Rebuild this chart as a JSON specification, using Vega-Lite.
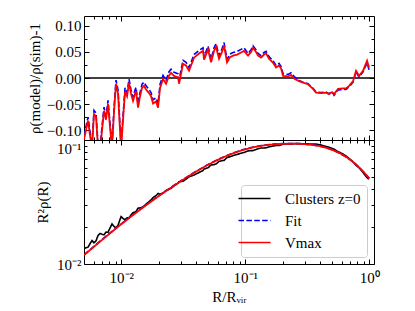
{
  "$schema": "https://vega.github.io/schema/vega-lite/v6.json",
  "padding": {"left": 26, "top": 15, "right": 5, "bottom": 5},
  "background": "white",
  "config": {
    "font": "Liberation Serif",
    "view": {"stroke": "black", "strokeWidth": 1},
    "axis": {"domain": false, "grid": false, "tickColor": "black", "tickWidth": 1, "labelFont": "Liberation Serif", "labelFontSize": 15, "labelColor": "black", "titleFont": "Liberation Serif", "titleFontSize": 15, "titleFontWeight": "normal", "titleColor": "black"},
    "legend": {"labelFont": "Liberation Serif", "labelFontSize": 15, "labelColor": "black", "strokeColor": "#cccccc", "fillColor": "rgba(255,255,255,0.85)", "cornerRadius": 3, "padding": 6}
  },
  "datasets": {
    "res": [
      {"r":0.00500,"vmax":-0.118,"fit":-0.111},{"r":0.00519,"vmax":-0.100,"fit":-0.093},{"r":0.00539,"vmax":-0.082,"fit":-0.075},{"r":0.00559,"vmax":-0.110,"fit":-0.103},{"r":0.00580,"vmax":-0.135,"fit":-0.128},{"r":0.00602,"vmax":-0.069,"fit":-0.062},{"r":0.00625,"vmax":-0.074,"fit":-0.067},{"r":0.00649,"vmax":-0.135,"fit":-0.128},{"r":0.00673,"vmax":-0.140,"fit":-0.133},{"r":0.00699,"vmax":-0.100,"fit":-0.093},
      {"r":0.00725,"vmax":-0.063,"fit":-0.056},{"r":0.00753,"vmax":-0.080,"fit":-0.073},{"r":0.00781,"vmax":-0.050,"fit":-0.043},{"r":0.00811,"vmax":-0.095,"fit":-0.088},{"r":0.00841,"vmax":-0.135,"fit":-0.128},{"r":0.00873,"vmax":-0.065,"fit":-0.058},{"r":0.00906,"vmax":-0.011,"fit":-0.004},{"r":0.00941,"vmax":-0.030,"fit":-0.023},{"r":0.00976,"vmax":-0.100,"fit":-0.093},{"r":0.00995,"vmax":-0.135,"fit":-0.128},
      {"r":0.01032,"vmax":-0.080,"fit":-0.073},{"r":0.01071,"vmax":-0.026,"fit":-0.019},{"r":0.01112,"vmax":-0.035,"fit":-0.028},{"r":0.01154,"vmax":-0.009,"fit":-0.002},{"r":0.01197,"vmax":-0.030,"fit":-0.023},{"r":0.01243,"vmax":-0.044,"fit":-0.037},{"r":0.01290,"vmax":-0.030,"fit":-0.023},{"r":0.01314,"vmax":-0.025,"fit":-0.018},{"r":0.01364,"vmax":-0.057,"fit":-0.050},{"r":0.01415,"vmax":-0.035,"fit":-0.028},
      {"r":0.01469,"vmax":-0.019,"fit":-0.012},{"r":0.01524,"vmax":-0.015,"fit":-0.008},{"r":0.01582,"vmax":-0.022,"fit":-0.015},{"r":0.01673,"vmax":-0.029,"fit":-0.022},{"r":0.01736,"vmax":-0.035,"fit":-0.028},{"r":0.01802,"vmax":-0.049,"fit":-0.042},{"r":0.01905,"vmax":-0.045,"fit":-0.038},{"r":0.01977,"vmax":-0.057,"fit":-0.050},{"r":0.02052,"vmax":-0.019,"fit":-0.012},{"r":0.02169,"vmax":-0.002,"fit":0.005},
      {"r":0.02294,"vmax":-0.011,"fit":-0.004},{"r":0.02425,"vmax":0.005,"fit":0.012},{"r":0.02517,"vmax":0.010,"fit":0.017},{"r":0.02661,"vmax":0.004,"fit":0.011},{"r":0.02866,"vmax":0.001,"fit":0.008},{"r":0.02920,"vmax":-0.011,"fit":-0.004},{"r":0.03145,"vmax":0.027,"fit":0.034},{"r":0.03325,"vmax":0.024,"fit":0.030},{"r":0.03516,"vmax":0.014,"fit":0.020},{"r":0.03857,"vmax":0.039,"fit":0.045},
      {"r":0.04232,"vmax":0.047,"fit":0.053},{"r":0.04560,"vmax":0.052,"fit":0.058},{"r":0.04645,"vmax":0.035,"fit":0.041},{"r":0.04821,"vmax":0.045,"fit":0.051},{"r":0.05003,"vmax":0.055,"fit":0.061},{"r":0.05290,"vmax":0.030,"fit":0.036},{"r":0.05593,"vmax":0.052,"fit":0.058},{"r":0.05804,"vmax":0.060,"fit":0.066},{"r":0.06136,"vmax":0.037,"fit":0.043},{"r":0.06488,"vmax":0.050,"fit":0.056},
      {"r":0.06733,"vmax":0.062,"fit":0.068},{"r":0.07119,"vmax":0.030,"fit":0.036},{"r":0.07527,"vmax":0.040,"fit":0.046},{"r":0.07959,"vmax":0.043,"fit":0.049},{"r":0.08573,"vmax":0.045,"fit":0.051},{"r":0.09233,"vmax":0.049,"fit":0.055},{"r":0.09761,"vmax":0.052,"fit":0.058},{"r":0.1051,"vmax":0.043,"fit":0.047},{"r":0.1112,"vmax":0.050,"fit":0.054},{"r":0.1154,"vmax":0.058,"fit":0.062},
      {"r":0.1220,"vmax":0.050,"fit":0.054},{"r":0.1266,"vmax":0.043,"fit":0.047},{"r":0.1339,"vmax":0.039,"fit":0.043},{"r":0.1415,"vmax":0.045,"fit":0.049},{"r":0.1469,"vmax":0.047,"fit":0.051},{"r":0.1553,"vmax":0.037,"fit":0.041},{"r":0.1673,"vmax":0.029,"fit":0.033},{"r":0.1768,"vmax":0.020,"fit":0.024},{"r":0.1870,"vmax":0.024,"fit":0.028},{"r":0.1941,"vmax":0.018,"fit":0.022},
      {"r":0.2014,"vmax":0.004,"fit":0.008},{"r":0.2210,"vmax":0.003,"fit":0.007},{"r":0.2336,"vmax":0.006,"fit":0.010},{"r":0.2470,"vmax":-0.001,"fit":0.003},{"r":0.2711,"vmax":-0.006,"fit":-0.005},{"r":0.2920,"vmax":-0.009,"fit":-0.008},{"r":0.3203,"vmax":-0.012,"fit":-0.011},{"r":0.3516,"vmax":-0.021,"fit":-0.020},{"r":0.3717,"vmax":-0.028,"fit":-0.027},{"r":0.4078,"vmax":-0.029,"fit":-0.028},
      {"r":0.4475,"vmax":-0.028,"fit":-0.027},{"r":0.4732,"vmax":-0.031,"fit":-0.030},{"r":0.5003,"vmax":-0.027,"fit":-0.026},{"r":0.5192,"vmax":-0.031,"fit":-0.033},{"r":0.5593,"vmax":-0.021,"fit":-0.023},{"r":0.6136,"vmax":-0.020,"fit":-0.022},{"r":0.6488,"vmax":-0.020,"fit":-0.022},{"r":0.6862,"vmax":-0.015,"fit":-0.017},{"r":0.7388,"vmax":-0.006,"fit":-0.008},{"r":0.7811,"vmax":0.014,"fit":0.012},
      {"r":0.8259,"vmax":0.004,"fit":0.002},{"r":0.8897,"vmax":0.014,"fit":0.012},{"r":0.9583,"vmax":0.033,"fit":0.029},{"r":0.9945,"vmax":0.020,"fit":0.016}
    ],
    "prof": [
      {"r":0.00500,"series":"Clusters z=0","value":0.01336},{"r":0.00519,"series":"Clusters z=0","value":0.01351},{"r":0.00539,"series":"Clusters z=0","value":0.01368},{"r":0.00559,"series":"Clusters z=0","value":0.01456},{"r":0.00580,"series":"Clusters z=0","value":0.01546},{"r":0.00602,"series":"Clusters z=0","value":0.01482},{"r":0.00625,"series":"Clusters z=0","value":0.01538},{"r":0.00649,"series":"Clusters z=0","value":0.01698},{"r":0.00673,"series":"Clusters z=0","value":0.01761},{"r":0.00699,"series":"Clusters z=0","value":0.01737},
      {"r":0.00725,"series":"Clusters z=0","value":0.01720},{"r":0.00753,"series":"Clusters z=0","value":0.01806},{"r":0.00781,"series":"Clusters z=0","value":0.01804},{"r":0.00811,"series":"Clusters z=0","value":0.01953},{"r":0.00841,"series":"Clusters z=0","value":0.02104},{"r":0.00873,"series":"Clusters z=0","value":0.02007},{"r":0.00906,"series":"Clusters z=0","value":0.01955},{"r":0.00941,"series":"Clusters z=0","value":0.02054},{"r":0.00976,"series":"Clusters z=0","value":0.02282},{"r":0.00995,"series":"Clusters z=0","value":0.02410},
      {"r":0.01032,"series":"Clusters z=0","value":0.02332},{"r":0.01071,"series":"Clusters z=0","value":0.02268},{"r":0.01112,"series":"Clusters z=0","value":0.02357},{"r":0.01154,"series":"Clusters z=0","value":0.02362},{"r":0.01197,"series":"Clusters z=0","value":0.02483},{"r":0.01243,"series":"Clusters z=0","value":0.02594},{"r":0.01290,"series":"Clusters z=0","value":0.02630},{"r":0.01314,"series":"Clusters z=0","value":0.02653},{"r":0.01364,"series":"Clusters z=0","value":0.02820},{"r":0.01415,"series":"Clusters z=0","value":0.02834},
      {"r":0.01469,"series":"Clusters z=0","value":0.02866},{"r":0.01524,"series":"Clusters z=0","value":0.02936},{"r":0.01582,"series":"Clusters z=0","value":0.03040},{"r":0.01673,"series":"Clusters z=0","value":0.03187},{"r":0.01736,"series":"Clusters z=0","value":0.03294},{"r":0.01802,"series":"Clusters z=0","value":0.03433},{"r":0.01905,"series":"Clusters z=0","value":0.03558},{"r":0.01977,"series":"Clusters z=0","value":0.03702},{"r":0.02052,"series":"Clusters z=0","value":0.03651},{"r":0.02169,"series":"Clusters z=0","value":0.03730},
      {"r":0.02294,"series":"Clusters z=0","value":0.03912},{"r":0.02425,"series":"Clusters z=0","value":0.04000},{"r":0.02517,"series":"Clusters z=0","value":0.04083},{"r":0.02661,"series":"Clusters z=0","value":0.04262},{"r":0.02866,"series":"Clusters z=0","value":0.04489},{"r":0.02920,"series":"Clusters z=0","value":0.04599},{"r":0.03145,"series":"Clusters z=0","value":0.04651},{"r":0.03325,"series":"Clusters z=0","value":0.04830},{"r":0.03516,"series":"Clusters z=0","value":0.05049},{"r":0.03857,"series":"Clusters z=0","value":0.05219},
      {"r":0.04232,"series":"Clusters z=0","value":0.05470},{"r":0.04560,"series":"Clusters z=0","value":0.05680},{"r":0.04645,"series":"Clusters z=0","value":0.05834},{"r":0.04821,"series":"Clusters z=0","value":0.05903},{"r":0.05003,"series":"Clusters z=0","value":0.05970},{"r":0.05290,"series":"Clusters z=0","value":0.06291},{"r":0.05593,"series":"Clusters z=0","value":0.06333},{"r":0.05804,"series":"Clusters z=0","value":0.06402},{"r":0.06136,"series":"Clusters z=0","value":0.06728},{"r":0.06488,"series":"Clusters z=0","value":0.06819},
      {"r":0.06733,"series":"Clusters z=0","value":0.06847},{"r":0.07119,"series":"Clusters z=0","value":0.07228},{"r":0.07527,"series":"Clusters z=0","value":0.07328},{"r":0.07959,"series":"Clusters z=0","value":0.07482},{"r":0.08573,"series":"Clusters z=0","value":0.07653},{"r":0.09233,"series":"Clusters z=0","value":0.07811},{"r":0.09761,"series":"Clusters z=0","value":0.07935},{"r":0.1051,"series":"Clusters z=0","value":0.08160},{"r":0.1112,"series":"Clusters z=0","value":0.08211},{"r":0.1154,"series":"Clusters z=0","value":0.08219},
      {"r":0.1220,"series":"Clusters z=0","value":0.08387},{"r":0.1266,"series":"Clusters z=0","value":0.08511},{"r":0.1339,"series":"Clusters z=0","value":0.08611},{"r":0.1415,"series":"Clusters z=0","value":0.08630},{"r":0.1469,"series":"Clusters z=0","value":0.08660},{"r":0.1553,"series":"Clusters z=0","value":0.08810},{"r":0.1673,"series":"Clusters z=0","value":0.08937},{"r":0.1768,"series":"Clusters z=0","value":0.09051},{"r":0.1870,"series":"Clusters z=0","value":0.09051},{"r":0.1941,"series":"Clusters z=0","value":0.09130},
      {"r":0.2014,"series":"Clusters z=0","value":0.09274},{"r":0.2210,"series":"Clusters z=0","value":0.09291},{"r":0.2336,"series":"Clusters z=0","value":0.09270},{"r":0.2470,"series":"Clusters z=0","value":0.09339},{"r":0.2711,"series":"Clusters z=0","value":0.09345},{"r":0.2920,"series":"Clusters z=0","value":0.09333},{"r":0.3203,"series":"Clusters z=0","value":0.09299},{"r":0.3516,"series":"Clusters z=0","value":0.09265},{"r":0.3717,"series":"Clusters z=0","value":0.09258},{"r":0.4078,"series":"Clusters z=0","value":0.09112},
      {"r":0.4475,"series":"Clusters z=0","value":0.08853},{"r":0.4732,"series":"Clusters z=0","value":0.08733},{"r":0.5003,"series":"Clusters z=0","value":0.08554},{"r":0.5192,"series":"Clusters z=0","value":0.08440},{"r":0.5593,"series":"Clusters z=0","value":0.08060},{"r":0.6136,"series":"Clusters z=0","value":0.07701},{"r":0.6488,"series":"Clusters z=0","value":0.07439},{"r":0.6862,"series":"Clusters z=0","value":0.07096},{"r":0.7388,"series":"Clusters z=0","value":0.06646},{"r":0.7811,"series":"Clusters z=0","value":0.06247},
      {"r":0.8259,"series":"Clusters z=0","value":0.05974},{"r":0.8897,"series":"Clusters z=0","value":0.05465},{"r":0.9583,"series":"Clusters z=0","value":0.04958},{"r":0.9945,"series":"Clusters z=0","value":0.04830},
      {"r":0.005012,"series":"Fit","value":0.01188},{"r":0.00631,"series":"Fit","value":0.01445},{"r":0.007943,"series":"Fit","value":0.01750},{"r":0.01,"series":"Fit","value":0.02109},{"r":0.01259,"series":"Fit","value":0.02524},{"r":0.01585,"series":"Fit","value":0.03000},{"r":0.01995,"series":"Fit","value":0.03541},{"r":0.02512,"series":"Fit","value":0.04150},{"r":0.03162,"series":"Fit","value":0.04831},{"r":0.03981,"series":"Fit","value":0.05567},{"r":0.05012,"series":"Fit","value":0.06348},{"r":0.0631,"series":"Fit","value":0.07121},
      {"r":0.07943,"series":"Fit","value":0.07845},{"r":0.1,"series":"Fit","value":0.08464},{"r":0.1259,"series":"Fit","value":0.08907},{"r":0.1585,"series":"Fit","value":0.09199},{"r":0.1995,"series":"Fit","value":0.09348},{"r":0.2512,"series":"Fit","value":0.09370},{"r":0.3162,"series":"Fit","value":0.09213},{"r":0.3981,"series":"Fit","value":0.08922},{"r":0.5012,"series":"Fit","value":0.08326},{"r":0.631,"series":"Fit","value":0.07432},{"r":0.7943,"series":"Fit","value":0.06240},{"r":1.0,"series":"Fit","value":0.04878},
      {"r":0.005012,"series":"Vmax","value":0.01180},{"r":0.00631,"series":"Vmax","value":0.01435},{"r":0.007943,"series":"Vmax","value":0.01738},{"r":0.01,"series":"Vmax","value":0.02094},{"r":0.01259,"series":"Vmax","value":0.02506},{"r":0.01585,"series":"Vmax","value":0.02979},{"r":0.01995,"series":"Vmax","value":0.03516},{"r":0.02512,"series":"Vmax","value":0.04121},{"r":0.03162,"series":"Vmax","value":0.04797},{"r":0.03981,"series":"Vmax","value":0.05534},{"r":0.05012,"series":"Vmax","value":0.06310},{"r":0.0631,"series":"Vmax","value":0.07079},
      {"r":0.07943,"series":"Vmax","value":0.07798},{"r":0.1,"series":"Vmax","value":0.08414},{"r":0.1259,"series":"Vmax","value":0.08872},{"r":0.1585,"series":"Vmax","value":0.09162},{"r":0.1995,"series":"Vmax","value":0.09311},{"r":0.2512,"series":"Vmax","value":0.09333},{"r":0.3162,"series":"Vmax","value":0.09204},{"r":0.3981,"series":"Vmax","value":0.08913},{"r":0.5012,"series":"Vmax","value":0.08318},{"r":0.631,"series":"Vmax","value":0.07447},{"r":0.7943,"series":"Vmax","value":0.06252},{"r":1.0,"series":"Vmax","value":0.04898}
    ],
    "zero": [{"level": 0}]
  },
  "spacing": 0,
  "bounds": "flush",
  "resolve": {"scale": {"color": "independent", "strokeDash": "independent"}},
  "vconcat": [
    {
      "width": 290,
      "height": 124,
      "resolve": {"axis": {"x": "independent", "y": "independent"}},
      "layer": [
        {
          "data": {"name": "zero"},
          "mark": {"type": "rule", "color": "black", "strokeWidth": 1.5},
          "encoding": {
            "y": {"field": "level", "type": "quantitative", "scale": {"domain": [-0.119, 0.119], "nice": false, "zero": false}, "axis": null}
          }
        },
        {
          "data": {"name": "res"},
          "mark": {"type": "line", "color": "blue", "strokeWidth": 1.6, "strokeDash": [5.5, 2.4], "clip": true},
          "encoding": {
            "x": {"field": "r", "type": "quantitative", "scale": {"type": "log", "domain": [0.005, 1.09], "nice": false}, "axis": {"orient": "bottom", "values": [0.01, 0.1, 1], "labels": false, "tickSize": -5, "title": null}},
            "y": {"field": "fit", "type": "quantitative", "scale": {"domain": [-0.119, 0.119], "nice": false, "zero": false}, "axis": {"orient": "left", "values": [-0.1, -0.05, 0, 0.05, 0.1], "format": ".2f", "tickSize": -5, "labelPadding": 8, "title": "ρ(model)/ρ(sim)-1", "titlePadding": 4}}
          }
        },
        {
          "data": {"name": "res"},
          "mark": {"type": "line", "color": "red", "strokeWidth": 1.8, "clip": true},
          "encoding": {
            "x": {"field": "r", "type": "quantitative", "scale": {"type": "log", "domain": [0.005, 1.09], "nice": false}, "axis": {"orient": "bottom", "values": [0.006,0.007,0.008,0.009,0.02,0.03,0.04,0.05,0.06,0.07,0.08,0.09,0.2,0.3,0.4,0.5,0.6,0.7,0.8,0.9], "labels": false, "tickSize": -3, "title": null}},
            "y": {"field": "vmax", "type": "quantitative", "axis": {"orient": "left", "values": [-0.075, -0.025, 0.025, 0.075], "labels": false, "tickSize": -3, "title": null}}
          }
        },
        {
          "data": {"name": "res"},
          "mark": {"type": "line", "color": "red", "strokeOpacity": 0, "clip": true},
          "encoding": {
            "x": {"field": "r", "type": "quantitative", "axis": {"orient": "top", "values": [0.01, 0.1, 1], "labels": false, "tickSize": -5, "title": null}},
            "y": {"field": "vmax", "type": "quantitative", "axis": {"orient": "right", "values": [-0.1, -0.05, 0, 0.05, 0.1], "labels": false, "tickSize": -5, "title": null}}
          }
        },
        {
          "data": {"name": "res"},
          "mark": {"type": "line", "color": "red", "strokeOpacity": 0, "clip": true},
          "encoding": {
            "x": {"field": "r", "type": "quantitative", "axis": {"orient": "top", "values": [0.006,0.007,0.008,0.009,0.02,0.03,0.04,0.05,0.06,0.07,0.08,0.09,0.2,0.3,0.4,0.5,0.6,0.7,0.8,0.9], "labels": false, "tickSize": -3, "title": null}},
            "y": {"field": "vmax", "type": "quantitative", "axis": {"orient": "right", "values": [-0.075, -0.025, 0.025, 0.075], "labels": false, "tickSize": -3, "title": null}}
          }
        }
      ]
    },
    {
      "width": 290,
      "height": 124,
      "resolve": {"axis": {"x": "independent", "y": "independent"}},
      "layer": [
        {
          "data": {"name": "prof"},
          "transform": [{"filter": "datum.series == 'Clusters z=0'"}],
          "mark": {"type": "line", "strokeWidth": 1.6, "clip": true},
          "encoding": {
            "x": {"field": "r", "type": "quantitative", "scale": {"type": "log", "domain": [0.005, 1.09], "nice": false}, "axis": {"orient": "bottom", "values": [0.01, 0.1, 1], "labelExpr": "datum.value < 0.05 ? '10⁻²' : datum.value < 0.5 ? '10⁻¹' : '10⁰'", "tickSize": -5, "labelPadding": 11, "title": "R/Rᵥᵢᵣ", "titlePadding": 4}},
            "y": {"field": "value", "type": "quantitative", "scale": {"type": "log", "domain": [0.01, 0.1], "nice": false}, "axis": {"orient": "left", "values": [0.01], "labelExpr": "'10⁻²'", "tickSize": -5, "labelPadding": 8, "title": "R²ρ(R)", "titlePadding": 6}},
            "color": {"field": "series", "type": "nominal", "scale": {"domain": ["Clusters z=0", "Fit", "Vmax"], "range": ["black", "blue", "red"]}, "legend": {"title": null, "orient": "bottom-right", "offset": 7, "symbolType": "M-3.2,0H3.2", "symbolSize": 100, "symbolStrokeWidth": 1.6, "labelOffset": 23, "rowPadding": 6}},
            "strokeDash": {"field": "series", "type": "nominal", "scale": {"domain": ["Clusters z=0", "Fit", "Vmax"], "range": [[1, 0], [5.5, 2.4], [1, 0]]}, "legend": {"title": null, "orient": "bottom-right", "offset": 7, "symbolType": "M-3.2,0H3.2", "symbolSize": 100, "symbolStrokeWidth": 1.6, "labelOffset": 23, "rowPadding": 6}}
          }
        },
        {
          "data": {"name": "prof"},
          "transform": [{"filter": "datum.series == 'Fit'"}],
          "mark": {"type": "line", "strokeWidth": 1.6, "interpolate": "monotone", "clip": true},
          "encoding": {
            "x": {"field": "r", "type": "quantitative", "axis": {"orient": "bottom", "values": [0.006,0.007,0.008,0.009,0.02,0.03,0.04,0.05,0.06,0.07,0.08,0.09,0.2,0.3,0.4,0.5,0.6,0.7,0.8,0.9], "labels": false, "tickSize": -3, "title": null}},
            "y": {"field": "value", "type": "quantitative", "axis": {"orient": "left", "values": [0.02,0.03,0.04,0.05,0.06,0.07,0.08,0.09], "labels": false, "tickSize": -3, "title": null}},
            "color": {"field": "series", "type": "nominal"},
            "strokeDash": {"field": "series", "type": "nominal"}
          }
        },
        {
          "data": {"name": "prof"},
          "transform": [{"filter": "datum.series == 'Vmax'"}],
          "mark": {"type": "line", "strokeWidth": 1.8, "interpolate": "monotone", "clip": true},
          "encoding": {
            "x": {"field": "r", "type": "quantitative", "axis": {"orient": "top", "values": [0.01, 0.1, 1], "labels": false, "tickSize": -5, "title": null}},
            "y": {"field": "value", "type": "quantitative", "axis": {"orient": "right", "values": [0.01, 0.1], "labels": false, "tickSize": -5, "title": null}},
            "color": {"field": "series", "type": "nominal"},
            "strokeDash": {"field": "series", "type": "nominal"}
          }
        },
        {
          "data": {"name": "prof"},
          "transform": [{"filter": "datum.series == 'Vmax'"}],
          "mark": {"type": "line", "color": "red", "strokeOpacity": 0, "clip": true},
          "encoding": {
            "x": {"field": "r", "type": "quantitative", "axis": {"orient": "top", "values": [0.006,0.007,0.008,0.009,0.02,0.03,0.04,0.05,0.06,0.07,0.08,0.09,0.2,0.3,0.4,0.5,0.6,0.7,0.8,0.9], "labels": false, "tickSize": -3, "title": null}},
            "y": {"field": "value", "type": "quantitative", "axis": {"orient": "right", "values": [0.02,0.03,0.04,0.05,0.06,0.07,0.08,0.09], "labels": false, "tickSize": -3, "title": null}}
          }
        },
        {
          "data": {"name": "prof"},
          "transform": [{"filter": "datum.series == 'Vmax'"}],
          "mark": {"type": "line", "color": "red", "strokeOpacity": 0, "clip": true},
          "encoding": {
            "x": {"field": "r", "type": "quantitative", "axis": null},
            "y": {"field": "value", "type": "quantitative", "axis": {"orient": "left", "values": [0.1], "labelExpr": "'10⁻¹'", "labelBaseline": "top", "labelOffset": 1, "tickSize": -5, "labelPadding": 8, "title": null}}
          }
        }
      ]
    }
  ]
}
